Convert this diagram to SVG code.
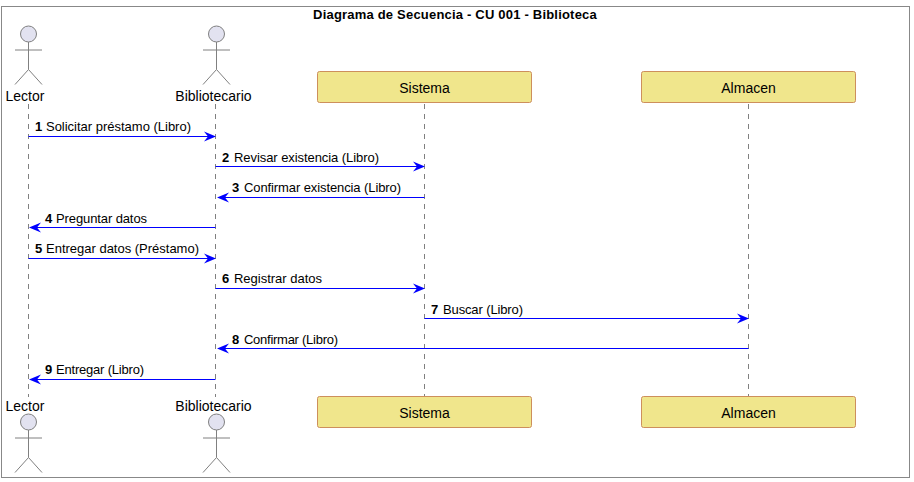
<svg xmlns="http://www.w3.org/2000/svg" width="914" height="482" viewBox="0 0 914 482">
<style>
text{font-family:"Liberation Sans",Arial,sans-serif;fill:#000}
.m{font-size:13px}
.n{font-size:13px;font-weight:bold}
.p{font-size:14px;text-anchor:middle}
.t{font-size:13px;font-weight:bold;text-anchor:middle;letter-spacing:.2px}
.l{stroke:#808080;stroke-width:1;stroke-dasharray:5 5;fill:none}
.b{fill:#F0E68C;stroke:#CD8F5C;stroke-width:1}
.a{stroke:#808080;stroke-width:1;fill:none}
.h{fill:#E2E2F0;stroke:#808080;stroke-width:1}
.c{stroke:#0000FF;stroke-width:1;fill:none}
.r{fill:#0000FF;stroke:none}
</style>
<defs>
<g id="actor"><circle class="h" cx="0" cy="0" r="8"/><path class="a" d="M0 8V35.500M-13.500 16H13.500M-13.500 50.500L0 35.500L13.500 50.500"/></g>
</defs>
<rect x="0" y="0" width="914" height="482" fill="#fff"/>
<rect id="frame" x="1.500" y="6.500" width="908" height="471" fill="none" stroke="#888888" stroke-width="1"/>
<text class="t" x="455" y="19">Diagrama de Secuencia - CU 001 - Biblioteca</text>
<g id="lifelines">
<path class="l" d="M28.500 104V397"/>
<path class="l" d="M215.500 104V397"/>
<path class="l" d="M424.500 104V397"/>
<path class="l" d="M748.500 104V397"/>
</g>
<g id="connectors">
<path class="c" d="M28.500 136.500H208"/><path class="r" d="M204 131.500L216 136.500L204 141.500L208 136.500Z"/>
<path class="c" d="M215.500 166.500H417"/><path class="r" d="M413 161.500L425 166.500L413 171.500L417 166.500Z"/>
<path class="c" d="M424.500 197.500H225"/><path class="r" d="M229 192.500L217 197.500L229 202.500L225 197.500Z"/>
<path class="c" d="M215.500 227.500H36"/><path class="r" d="M41 222.500L29 227.500L41 232.500L37 227.500Z"/>
<path class="c" d="M28.500 258.500H208"/><path class="r" d="M204 253.500L216 258.500L204 263.500L208 258.500Z"/>
<path class="c" d="M215.500 288.500H417"/><path class="r" d="M413 283.500L425 288.500L413 293.500L417 288.500Z"/>
<path class="c" d="M424.500 318.500H741"/><path class="r" d="M737 313.500L749 318.500L737 323.500L741 318.500Z"/>
<path class="c" d="M748.500 348.500H225"/><path class="r" d="M229 343.500L217 348.500L229 353.500L225 348.500Z"/>
<path class="c" d="M215.500 379.500H36"/><path class="r" d="M41 374.500L29 379.500L41 384.500L37 379.500Z"/>
</g>
<g id="labels">
<text class="n" x="35" y="131">1</text><text class="m" x="46" y="131" textLength="145">Solicitar préstamo (Libro)</text>
<text class="n" x="222" y="162">2</text><text class="m" x="234" y="162" textLength="145">Revisar existencia (Libro)</text>
<text class="n" x="232" y="192">3</text><text class="m" x="244" y="192" textLength="157">Confirmar existencia (Libro)</text>
<text class="n" x="45" y="223">4</text><text class="m" x="56" y="223" textLength="91">Preguntar datos</text>
<text class="n" x="35" y="253">5</text><text class="m" x="46" y="253" textLength="153">Entregar datos (Préstamo)</text>
<text class="n" x="222" y="283">6</text><text class="m" x="234" y="283" textLength="88">Registrar datos</text>
<text class="n" x="431" y="314">7</text><text class="m" x="443" y="314" textLength="80">Buscar (Libro)</text>
<text class="n" x="232" y="344">8</text><text class="m" x="244" y="344" textLength="94">Confirmar (Libro)</text>
<text class="n" x="45" y="374">9</text><text class="m" x="56" y="374" textLength="88">Entregar (Libro)</text>
</g>
<g id="lector-top"><use href="#actor" x="28.500" y="34"/><text class="p" x="25" y="101">Lector</text></g>
<g id="bibliotecario-top"><use href="#actor" x="216.500" y="34"/><text class="p" x="213.500" y="101">Bibliotecario</text></g>
<g id="sistema-top"><rect class="b" x="317.500" y="71.500" width="214" height="31" rx="2"/><text class="p" x="424.500" y="93">Sistema</text></g>
<g id="almacen-top"><rect class="b" x="641.500" y="71.500" width="214" height="31" rx="2"/><text class="p" x="748.500" y="93">Almacen</text></g>
<g id="lector-bottom"><use href="#actor" x="28.500" y="422"/><text class="p" x="25" y="411">Lector</text></g>
<g id="bibliotecario-bottom"><use href="#actor" x="216.500" y="422"/><text class="p" x="213.500" y="411">Bibliotecario</text></g>
<g id="sistema-bottom"><rect class="b" x="317.500" y="396.500" width="214" height="31" rx="2"/><text class="p" x="424.500" y="418">Sistema</text></g>
<g id="almacen-bottom"><rect class="b" x="641.500" y="396.500" width="214" height="31" rx="2"/><text class="p" x="748.500" y="418">Almacen</text></g>
</svg>
